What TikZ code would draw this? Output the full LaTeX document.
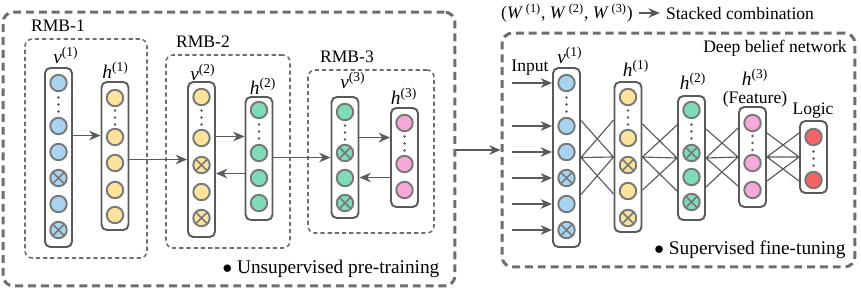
\documentclass[tikz,border=0pt]{standalone}
\usepackage{fontspec}
\setmainfont{Liberation Serif}
\usetikzlibrary{arrows.meta}
\definecolor{linec}{HTML}{5A5A5A}
\definecolor{ringc}{HTML}{787878}
\definecolor{framec}{HTML}{6E6E6E}
\definecolor{cblue}{HTML}{A8D4F0}
\definecolor{cyellow}{HTML}{FCE29A}
\definecolor{cgreen}{HTML}{7EDDB8}
\definecolor{cpink}{HTML}{F5A9D9}
\definecolor{cred}{HTML}{F56464}
\tikzset{vdots/.pic={\foreach \d in {-7,0,7} \fill[linec] (0,\d) circle (0.8pt);}}

\begin{document}
\begin{tikzpicture}[x=0.02cm, y=-0.02cm,
    font=\fontsize{10}{12}\selectfont,
    stage/.style={draw=framec, line width=1.7pt, dash pattern=on 4.5pt off 2.8pt, rounded corners=6pt, inner sep=0pt},
    rbm/.style={draw=framec, line width=0.9pt, dash pattern=on 2.4pt off 1.7pt, rounded corners=4pt, inner sep=0pt},
    layer/.style={draw=linec, line width=1.1pt, rounded corners=3pt, minimum width=0.54cm, inner sep=0pt},
    unit/.style={circle, draw=ringc, line width=1.1pt, minimum size=0.33cm, inner sep=0pt},
    crossed/.style={path picture={\draw[ringc, line width=0.9pt]
        (path picture bounding box.north west) -- (path picture bounding box.south east)
        (path picture bounding box.north east) -- (path picture bounding box.south west);}},
    ub/.style={unit, fill=cblue}, ubx/.style={ub, crossed},
    uy/.style={unit, fill=cyellow}, uyx/.style={uy, crossed},
    ug/.style={unit, fill=cgreen}, ugx/.style={ug, crossed},
    up/.style={unit, fill=cpink},
    ur/.style={unit, fill=cred},
    lbl/.style={font=\fontsize{11}{13}\selectfont, inner sep=1pt},
    note/.style={font=\fontsize{11}{13}\selectfont, inner sep=1pt},
    arrow/.style={-{Stealth[length=6.5pt, width=5.5pt]}, line width=0.85pt, linec},
    link/.style={line width=0.65pt, linec}
]
\useasboundingbox (0,0) rectangle (861,292);

% Pre-training stage with three stacked RBMs
\node[stage, minimum width=9.04cm, minimum height=5.48cm] (pre) at (229,149) {};
\node[rbm, minimum width=2.44cm, minimum height=4.38cm] (rbm1) at (86,148.5) {};
\node[rbm, minimum width=2.48cm, minimum height=3.86cm] (rbm2) at (228,151.5) {};
\node[rbm, minimum width=2.52cm, minimum height=3.26cm] (rbm3) at (371,151.5) {};
\node (rbm1t) at (58,26) {RMB-1};
\node (rbm2t) at (203,42) {RMB-2};
\node (rbm3t) at (347,57) {RMB-3};

% RBM-1
\node[layer, minimum height=3.58cm] (v1a) at (58.5,157.5) {};
\node[layer, minimum height=2.96cm] (h1a) at (115,156) {};
\foreach \y/\k [count=\i] in {83/ub,126/ub,152/ub,178/ubx,204/ub,230/ubx}
    \node[\k] (v1a-\i) at (58.5,\y) {};
\foreach \y/\k [count=\i] in {98/uy,137/uy,163/uy,190/uy,215/uy}
    \node[\k] (h1a-\i) at (115,\y) {};
\pic at (58.5,104.5) {vdots};
\pic at (115,117.5) {vdots};
\node[lbl] (v1at) at (66,55) {\textit{v}\textsuperscript{(1)}};
\node[lbl] (h1at) at (115.5,70) {\textit{h}\textsuperscript{(1)}};

% RBM-2
\node[layer, minimum height=3.10cm] (v2a) at (201.5,159.5) {};
\node[layer, minimum height=2.46cm] (h2a) at (259,158.5) {};
\foreach \y/\k [count=\i] in {97/uy,138/uy,165/uyx,192/uy,218/uyx}
    \node[\k] (v2a-\i) at (201.5,\y) {};
\foreach \y/\k [count=\i] in {110/ug,153/ug,178/ug,203/ug}
    \node[\k] (h2a-\i) at (259,\y) {};
\pic at (201.5,117.5) {vdots};
\pic at (259,131.5) {vdots};
\node[lbl] (v2at) at (203,72) {\textit{v}\textsuperscript{(2)}};
\node[lbl] (h2at) at (263,86) {\textit{h}\textsuperscript{(2)}};

% RBM-3
\node[layer, minimum height=2.42cm] (v3a) at (345,157.5) {};
\node[layer, minimum height=1.98cm] (h3a) at (404.5,157.5) {};
\foreach \y/\k [count=\i] in {112/ug,153/ugx,178/ug,203/ugx}
    \node[\k] (v3a-\i) at (345,\y) {};
\foreach \y/\k [count=\i] in {123/up,164/up,190/up}
    \node[\k] (h3a-\i) at (404.5,\y) {};
\pic at (345,132.5) {vdots};
\pic at (404.5,143.5) {vdots};
\node[lbl] (v3at) at (353,80) {\textit{v}\textsuperscript{(3)}};
\node[lbl] (h3at) at (404,96) {\textit{h}\textsuperscript{(3)}};

% Greedy layer-wise arrows
\draw[arrow] ([yshift=0.44cm]v1a.east) -- ([yshift=0.44cm]v1a.east -| h1a.west);
\draw[arrow] (h1a.east |- v2a.west) -- (v2a.west);
\draw[arrow] ([yshift=0.46cm]v2a.east) -- ([yshift=0.46cm]v2a.east -| h2a.west);
\draw[arrow] ([yshift=-0.3cm]h2a.west) -- ([yshift=-0.3cm]h2a.west -| v2a.east);
\draw[arrow] (h2a.east |- v3a.west) -- (v3a.west);
\draw[arrow] ([yshift=0.4cm]v3a.east) -- ([yshift=0.4cm]v3a.east -| h3a.west);
\draw[arrow] ([yshift=-0.4cm]h3a.west) -- ([yshift=-0.4cm]h3a.west -| v3a.east);
\node[note] (pret) at (331,269) {$\bullet$ Unsupervised pre-training};

% Stacked combination
\node (wts) at (567,13) {(\textit{W}\,\textsuperscript{(1)},\ \textit{W}\,\textsuperscript{(2)}, \textit{W}\,\textsuperscript{(3)})};
\node (stack) at (740,13) {Stacked combination};
\draw[arrow] (wts) -- (stack);

% Deep belief network (fine-tuning)
\node[stage, minimum width=7.06cm, minimum height=4.68cm] (dbn) at (678.5,150) {};
\draw[arrow] (pre.east |- dbn.west) -- (dbn.west);
\node (dbnt) at (775,48) {Deep belief network};

\node[layer, minimum height=3.58cm] (v1) at (566.5,157.5) {};
\node[layer, minimum height=3.00cm] (h1) at (628,157) {};
\node[layer, minimum height=2.48cm] (h2) at (691.5,158) {};
\node[layer, minimum height=2.00cm] (h3) at (752.5,157) {};
\node[layer, minimum height=1.44cm] (lg) at (813.5,157) {};
\foreach \y/\k [count=\i] in {83/ub,126/ub,152/ub,178/ubx,204/ub,230/ubx}
    \node[\k] (v1-\i) at (566.5,\y) {};
\foreach \y/\k [count=\i] in {97/uy,138/uy,165/uyx,191/uy,218/uyx}
    \node[\k] (h1-\i) at (628,\y) {};
\foreach \y/\k [count=\i] in {110/ug,153/ugx,177/ug,202/ugx}
    \node[\k] (h2-\i) at (691.5,\y) {};
\foreach \y/\k [count=\i] in {123/up,163/up,190/up}
    \node[\k] (h3-\i) at (752.5,\y) {};
\foreach \y/\k [count=\i] in {137/ur,180/ur}
    \node[\k] (lg-\i) at (813.5,\y) {};
\pic at (566.5,104.5) {vdots};
\pic at (628,117.5) {vdots};
\pic at (691.5,131.5) {vdots};
\pic at (752.5,143) {vdots};
\pic at (813.5,158.5) {vdots};

\node[lbl] (v1t) at (570,55) {\textit{v}\textsuperscript{(1)}};
\node[lbl] (h1t) at (636,68) {\textit{h}\textsuperscript{(1)}};
\node[lbl] (h2t) at (693,81) {\textit{h}\textsuperscript{(2)}};
\node[lbl] (h3t) at (755,77) {\textit{h}\textsuperscript{(3)}};
\node[inner sep=1pt] (feat) at (755,99) {(Feature)};
\node (lgt) at (813,111) {Logic};
\node (inp) at (530,68) {Input};

% Input arrows
\coordinate (in) at (512,157);
\foreach \i in {1,...,6}
    \draw[arrow] (in |- v1-\i) -- (v1.west |- v1-\i);

% Full connections between layers
\foreach \a/\b/\d in {v1/h1/0.74, h1/h2/0.66, h2/h3/0.58, h3/lg/0.48}
    \draw[link] ([yshift=\d cm]\a.east) -- (\b.west)
                (\a.east) -- ([yshift=\d cm]\b.west)
                (\a.east) -- (\b.west)
                (\a.east) -- ([yshift=-\d cm]\b.west)
                ([yshift=-\d cm]\a.east) -- (\b.west);
\node[note] (fint) at (750,249.5) {$\bullet$ Supervised fine-tuning};

\end{tikzpicture}
\end{document}
